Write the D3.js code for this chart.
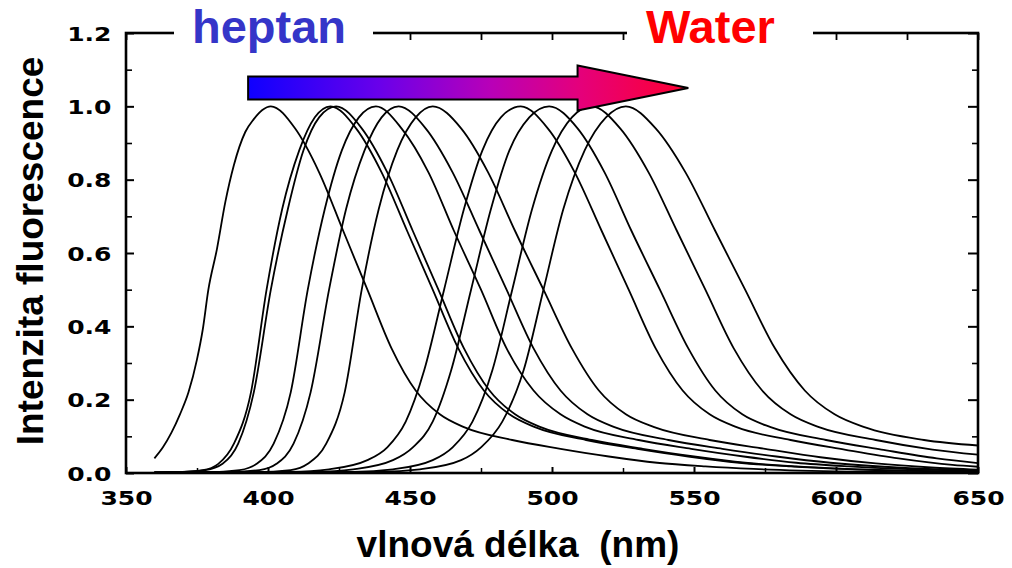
<!DOCTYPE html>
<html>
<head>
<meta charset="utf-8">
<script src="https://cdn.jsdelivr.net/npm/d3@7"></script>
<style>
  body { margin: 0; background: #fff; }
  svg { display: block; }
</style>
</head>
<body>
<svg id="chart" width="1012" height="568"></svg>
<script>
// Axis ticks
const xMajorTicks = [350, 400, 450, 500, 550, 600, 650];
const xMinorTicks = [375, 425, 475, 525, 575, 625];
const yMajorTicks = [0.0, 0.2, 0.4, 0.6, 0.8, 1.0, 1.2];
const yMinorTicks = [0.1, 0.3, 0.5, 0.7, 0.9, 1.1];
const yTickLabels = ["0.0", "0.2", "0.4", "0.6", "0.8", "1.0", "1.2"];

// Normalised emission spectra, [wavelength nm, intensity], from heptane towards water
const spectrum1 = [[360,0.04],[363,0.07],[366,0.11],[369,0.16],[372,0.22],[375,0.31],[377,0.39],[379,0.5],[382,0.61],[385,0.74],[388,0.84],[392,0.93],[395,0.965],[398,0.99],[401,1.0],[409.5,0.94],[418,0.82],[426.5,0.66],[435,0.5],[443.5,0.34],[452,0.225],[460.5,0.16],[469,0.125],[486,0.09],[503,0.066],[520,0.045],[537,0.028],[554,0.018],[571,0.011],[605,0.004],[650,0.001]];
const spectrum2 = [[360,0.001],[366,0.002],[377,0.008],[382.5,0.025],[388,0.08],[394,0.22],[399.5,0.5],[405,0.72],[411,0.88],[416.5,0.97],[422,1.0],[431,0.94],[440,0.82],[449,0.66],[458,0.5],[467,0.34],[476,0.225],[485,0.16],[494,0.125],[512,0.09],[530,0.066],[548,0.045],[566,0.028],[584,0.018],[602,0.011],[638,0.004],[650,0.003]];
const spectrum3 = [[360,0.001],[366.5,0.002],[378,0.008],[384,0.025],[389.5,0.08],[395,0.22],[401,0.5],[407,0.72],[412.5,0.88],[418,0.97],[424,1.0],[433,0.94],[442,0.82],[451,0.66],[460,0.5],[469,0.34],[478,0.225],[487,0.16],[496,0.125],[514,0.09],[532,0.066],[550,0.045],[568,0.028],[586,0.018],[604,0.011],[640,0.004],[650,0.003]];
const spectrum4 = [[360,0.001],[378,0.002],[390,0.008],[396,0.025],[402,0.08],[408,0.22],[414,0.5],[420,0.72],[426,0.88],[432,0.97],[438,1.0],[447,0.94],[456.5,0.82],[465.5,0.66],[475,0.5],[484,0.34],[493.5,0.225],[503,0.16],[512,0.125],[530.5,0.09],[549,0.066],[567.5,0.045],[586,0.028],[604.5,0.018],[623,0.011],[650,0.006]];
const spectrum5 = [[360,0.001],[385,0.002],[397,0.008],[403,0.025],[409,0.08],[415,0.22],[421.5,0.5],[427.5,0.72],[434,0.88],[440,0.97],[446,1.0],[455.5,0.94],[465,0.82],[474.5,0.66],[484,0.5],[493.5,0.34],[503,0.225],[512.5,0.16],[522,0.125],[541,0.09],[560,0.066],[579,0.045],[598,0.028],[617,0.017],[636,0.01],[650,0.007]];
const spectrum6 = [[360,0.001],[395.5,0.002],[408,0.008],[414,0.025],[420.5,0.08],[427,0.22],[433,0.5],[439,0.72],[445.5,0.88],[452,0.97],[458,1.0],[468,0.94],[477.5,0.82],[487,0.66],[497,0.5],[507,0.34],[516.5,0.225],[526,0.16],[536,0.125],[555.5,0.09],[575,0.066],[594.5,0.043],[614,0.026],[633.5,0.015],[650,0.009]];
const spectrum7 = [[360,0.001],[408,0.003],[421.5,0.01],[435,0.035],[442,0.07],[448.5,0.14],[455,0.28],[462,0.5],[469,0.72],[475.5,0.88],[482,0.97],[489,1.0],[498.5,0.94],[508,0.82],[517.5,0.66],[527,0.5],[536.5,0.34],[546,0.225],[555.5,0.16],[565,0.125],[584,0.09],[603,0.064],[622,0.04],[641,0.022],[650,0.017]];
const spectrum8 = [[360,0.001],[416.5,0.003],[430,0.01],[444,0.035],[451,0.07],[458,0.14],[464.5,0.28],[471.5,0.5],[478.5,0.72],[485,0.88],[492,0.97],[499,1.0],[509,0.94],[518.5,0.82],[528,0.66],[538,0.5],[548,0.34],[557.5,0.225],[567,0.16],[577,0.125],[596.5,0.09],[616,0.064],[635.5,0.04],[650,0.027]];
const spectrum9 = [[360,0.001],[430,0.003],[444,0.01],[458,0.035],[465,0.07],[472,0.14],[479,0.28],[486,0.5],[493,0.72],[500,0.88],[507,0.97],[514,1.0],[524,0.94],[534,0.82],[544,0.66],[554,0.5],[564,0.34],[574,0.225],[584,0.16],[594,0.125],[614,0.09],[634,0.064],[650,0.05]];
const spectrum10 = [[360,0.001],[439,0.003],[453.5,0.01],[468,0.035],[475,0.07],[482.5,0.14],[490,0.28],[497,0.5],[504,0.72],[511.5,0.88],[519,0.97],[526,1.0],[536.5,0.94],[547,0.82],[557.5,0.66],[568,0.5],[578.5,0.34],[589,0.225],[599.5,0.16],[610,0.125],[631,0.09],[650,0.075]];

const spectra = [spectrum1, spectrum2, spectrum3, spectrum4, spectrum5,
                 spectrum6, spectrum7, spectrum8, spectrum9, spectrum10];

// Solvent-shift arrow, in data units (wavelength, intensity)
const arrowStart = 393, arrowHeadBase = 509, arrowEnd = 548, arrowLevel = 1.05;

const svg = d3.select("#chart");
const plotLeft = 126, plotRight = 978, plotTop = 33, plotBottom = 473;

const x = d3.scaleLinear().domain([350, 650]).range([plotLeft, plotRight]);
const y = d3.scaleLinear().domain([0, 1.2]).range([plotBottom, plotTop]);

const tickFont = "'DejaVu Sans', sans-serif";
const labelFont = "'Liberation Sans', Arial, Helvetica, sans-serif";

function styleTicks(g, w) {
  g.select(".domain").remove();
  g.selectAll(".tick line").attr("stroke", "#000").attr("stroke-width", w);
}

// Bottom axis: major + minor inward ticks
const gxB = svg.append("g").attr("transform", `translate(0,${plotBottom})`)
  .call(d3.axisBottom(x).tickValues(xMajorTicks).tickSize(-6).tickSizeOuter(0).tickFormat(d3.format("d")));
styleTicks(gxB, 2);
gxB.selectAll(".tick text")
  .attr("y", null).attr("dy", null)
  .attr("transform", "translate(0,32) scale(1.25,1)")
  .attr("text-anchor", "middle")
  .style("font-family", tickFont).style("font-weight", "bold")
  .style("font-size", "20px").attr("fill", "#000");
const gxB2 = svg.append("g").attr("transform", `translate(0,${plotBottom})`)
  .call(d3.axisBottom(x).tickValues(xMinorTicks).tickSize(-5).tickSizeOuter(0).tickFormat(""));
styleTicks(gxB2, 1.5);

// Top axis ticks
const gxT = svg.append("g").attr("transform", `translate(0,${plotTop})`)
  .call(d3.axisTop(x).tickValues(xMajorTicks.concat(xMinorTicks)).tickSize(-7).tickSizeOuter(0).tickFormat(""));
styleTicks(gxT, 1.8);

// Left axis
const gyL = svg.append("g").attr("transform", `translate(${plotLeft},0)`)
  .call(d3.axisLeft(y).tickValues(yMajorTicks).tickSize(-8).tickSizeOuter(0)
    .tickFormat((d, i) => yTickLabels[i]));
styleTicks(gyL, 2);
gyL.selectAll(".tick text")
  .attr("x", null).attr("dy", null)
  .attr("transform", "translate(-14.5,7.3) scale(1.25,1)")
  .attr("text-anchor", "end")
  .style("font-family", tickFont).style("font-weight", "bold")
  .style("font-size", "20px").attr("fill", "#000");
const gyL2 = svg.append("g").attr("transform", `translate(${plotLeft},0)`)
  .call(d3.axisLeft(y).tickValues(yMinorTicks).tickSize(-6).tickSizeOuter(0).tickFormat(""));
styleTicks(gyL2, 1.6);

// Right axis
const gyR = svg.append("g").attr("transform", `translate(${plotRight},0)`)
  .call(d3.axisRight(y).tickValues(yMajorTicks).tickSize(-10).tickSizeOuter(0).tickFormat(""));
styleTicks(gyR, 2);
const gyR2 = svg.append("g").attr("transform", `translate(${plotRight},0)`)
  .call(d3.axisRight(y).tickValues(yMinorTicks).tickSize(-6).tickSizeOuter(0).tickFormat(""));
styleTicks(gyR2, 1.6);

// Plot frame
svg.append("rect")
  .attr("x", plotLeft).attr("y", plotTop)
  .attr("width", plotRight - plotLeft).attr("height", plotBottom - plotTop)
  .attr("fill", "none").attr("stroke", "#000").attr("stroke-width", 2.6);

// Spectra
const line = d3.line()
  .x(d => x(d[0]))
  .y(d => y(d[1]))
  .curve(d3.curveMonotoneX);

svg.append("g").selectAll("path")
  .data(spectra)
  .join("path")
  .attr("d", line)
  .attr("fill", "none")
  .attr("stroke", "#000")
  .attr("stroke-width", 1.8)
  .attr("stroke-linejoin", "round");

// Solvent labels, set into gaps of the top frame line
const labels = [
  { text: "heptan", x0: 174, x1: 373, tx: 192, color: "#3535c8" },
  { text: "Water",  x0: 627, x1: 813, tx: 646, color: "#ff0000" }
];
svg.append("g").selectAll("rect")
  .data(labels)
  .join("rect")
  .attr("x", d => d.x0).attr("y", 18)
  .attr("width", d => d.x1 - d.x0).attr("height", 30)
  .attr("fill", "#fff");
svg.append("g").selectAll("text")
  .data(labels)
  .join("text")
  .attr("x", d => d.tx).attr("y", 43)
  .attr("fill", d => d.color)
  .style("font-family", labelFont)
  .style("font-weight", "bold")
  .style("font-size", "47px")
  .text(d => d.text);

// Gradient arrow: blue (nonpolar) to red (polar)
const defs = svg.append("defs");
const grad = defs.append("linearGradient")
  .attr("id", "shiftGradient")
  .attr("gradientUnits", "userSpaceOnUse")
  .attr("x1", x(arrowStart)).attr("x2", x(arrowEnd))
  .attr("y1", 0).attr("y2", 0);
[[0, "#0f00ff"], [0.3, "#6a00ea"], [0.55, "#b800b8"], [0.75, "#e4007c"], [1, "#ff0030"]]
  .forEach(([o, c]) => grad.append("stop").attr("offset", o).attr("stop-color", c));

const ay = y(arrowLevel);
const bodyHalf = 11.5, headHalf = 22.5;
const arrowPath = d3.path();
arrowPath.moveTo(x(arrowStart), ay - bodyHalf);
arrowPath.lineTo(x(arrowHeadBase), ay - bodyHalf);
arrowPath.lineTo(x(arrowHeadBase), ay - headHalf);
arrowPath.lineTo(x(arrowEnd), ay);
arrowPath.lineTo(x(arrowHeadBase), ay + headHalf);
arrowPath.lineTo(x(arrowHeadBase), ay + bodyHalf);
arrowPath.lineTo(x(arrowStart), ay + bodyHalf);
arrowPath.closePath();
svg.append("path")
  .attr("d", arrowPath.toString())
  .attr("fill", "url(#shiftGradient)")
  .attr("stroke", "#000")
  .attr("stroke-width", 2)
  .attr("stroke-linejoin", "miter");

// Axis titles
svg.append("text")
  .attr("x", 518).attr("y", 557)
  .attr("text-anchor", "middle")
  .style("white-space", "pre")
  .style("font-family", labelFont).style("font-weight", "bold")
  .style("font-size", "37px").attr("fill", "#000")
  .text("vlnová délka  (nm)");

svg.append("text")
  .attr("transform", "translate(43,251) rotate(-90)")
  .attr("text-anchor", "middle")
  .style("font-family", labelFont).style("font-weight", "bold")
  .style("font-size", "37px").attr("fill", "#000")
  .text("Intenzita fluorescence");
</script>
</body>
</html>
